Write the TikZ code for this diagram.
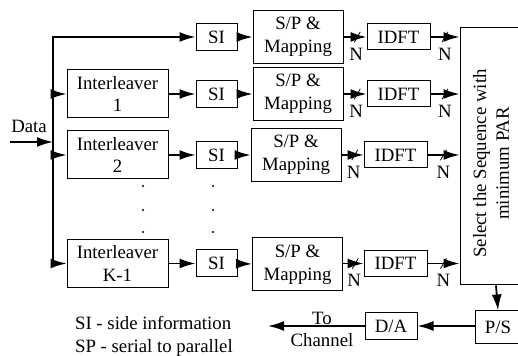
\documentclass[tikz,border=0pt]{standalone}
\usepackage{fontspec}
\setmainfont{Liberation Serif}
\usetikzlibrary{arrows.meta}

\begin{document}
\begin{tikzpicture}[
    x=0.5pt, y=-0.5pt,
    font=\fontsize{9.4}{11.4}\selectfont,
    box/.style={draw, rectangle, line width=0.5pt, align=center, inner sep=1pt},
    ilbox/.style={box, minimum width=50.5pt, minimum height=24pt},
    sibox/.style={box, minimum width=20.5pt, minimum height=13.5pt},
    spbox/.style={box, minimum width=45pt, minimum height=26.5pt},
    idftbox/.style={box, minimum width=31.5pt, minimum height=13pt},
    line/.style={line width=0.9pt},
    arrow/.style={line, -{Latex[length=8pt, width=5pt]}},
    busmark/.style={draw, line width=0.4pt, minimum width=0pt, minimum height=6pt, inner sep=0pt, rotate=-30},
    nlabel/.style={below=5pt, inner sep=0pt}
]
\clip (0,0) rectangle (518,356);

% Nodes
\node (datalabel) at (29,126) {Data};
\coordinate (datain) at (10,142);
\coordinate (bustop) at (53,37);
\coordinate (busbot) at (53,263.5);

\node[sibox] (si0) at (216.5,37) {SI};
\node[spbox] (sp0) at (298,37) {S/P \&\\Mapping};
\node[idftbox] (idft0) at (398.5,37) {IDFT};

\node[ilbox] (il1) at (117.5,94) {Interleaver\\1};
\node[sibox] (si1) at (216.5,94) {SI};
\node[spbox] (sp1) at (298,94) {S/P \&\\Mapping};
\node[idftbox] (idft1) at (398.5,94) {IDFT};

\node[ilbox] (il2) at (117.5,155) {Interleaver\\2};
\node[sibox] (si2) at (216.5,155) {SI};
\node[spbox] (sp2) at (296,155) {S/P \&\\Mapping};
\node[idftbox] (idft2) at (395.5,155) {IDFT};

\node[ilbox] (il3) at (117.5,263.5) {Interleaver\\K-1};
\node[sibox] (si3) at (216.5,263.5) {SI};
\node[spbox] (sp3) at (297.5,264.5) {S/P \&\\Mapping};
\node[idftbox] (idft3) at (395.5,263.5) {IDFT};

\node[box, minimum width=31pt, minimum height=128.5pt] (select) at (491,156.5) {};
\node[rotate=90, align=center] (selecttext) at (491,163.5) {Select the Sequence with\\minimum PAR};

\node[box, minimum width=23pt, minimum height=16.5pt] (ps) at (498,327.5) {P/S};
\node[box, minimum width=26pt, minimum height=13.5pt] (da) at (391,326) {D/A};
\coordinate (channel) at (268,326);
\node[align=center] (tochannel) at (322,329.5) {To\\Channel};

\node[align=left, anchor=west] (legend) at (68,336) {SI - side information\\SP - serial to parallel};

% dots between the rows
\foreach \y in {186,210,232} {
    \fill (143,\y) circle (0.6pt);
    \fill (213,\y) circle (0.6pt);
}

% Arrows
\draw[arrow] (datain) -- (datain -| bustop);
\draw[arrow] (busbot) -- (bustop) -- (si0);
\draw[arrow] (bustop |- il1) -- (il1);
\draw[arrow] (bustop |- il2) -- (il2);
\draw[arrow] (busbot) -- (il3);

\draw[arrow] (si0) -- (sp0);
\draw[arrow] (il1) -- (si1);
\draw[arrow] (si1) -- (sp1);
\draw[arrow] (il2) -- (si2);
\draw[arrow] (si2) -- (sp2);
\draw[arrow] (il3) -- (si3);
\draw[arrow] (si3) -- (sp3);

\draw[arrow] (sp0) -- node[busmark, pos=0.6]{} node[nlabel, pos=0.55]{N} (idft0);
\draw[arrow] (sp1) -- node[busmark, pos=0.6]{} node[nlabel, pos=0.55]{N} (idft1);
\draw[arrow] (sp2) -- node[busmark, pos=0.6]{} node[nlabel, pos=0.55]{N} (idft2);
\draw[arrow] (sp3.east |- idft3) -- node[busmark, pos=0.6]{} node[nlabel, pos=0.55]{N} (idft3);

\draw[arrow] (idft0) -- node[busmark]{} node[nlabel]{N} (idft0 -| select.west);
\draw[arrow] (idft1) -- node[busmark]{} node[nlabel]{N} (idft1 -| select.west);
\draw[arrow] (idft2) -- node[busmark]{} node[nlabel]{N} (idft2 -| select.west);
\draw[arrow] (idft3) -- node[busmark]{} node[nlabel]{N} (idft3 -| select.west);

\draw[arrow] ([xshift=2.5pt]select.south) -- (ps.north);
\draw[arrow] (ps.west |- da) -- (da);
\draw[arrow] (da) -- (channel);
\end{tikzpicture}
\end{document}
